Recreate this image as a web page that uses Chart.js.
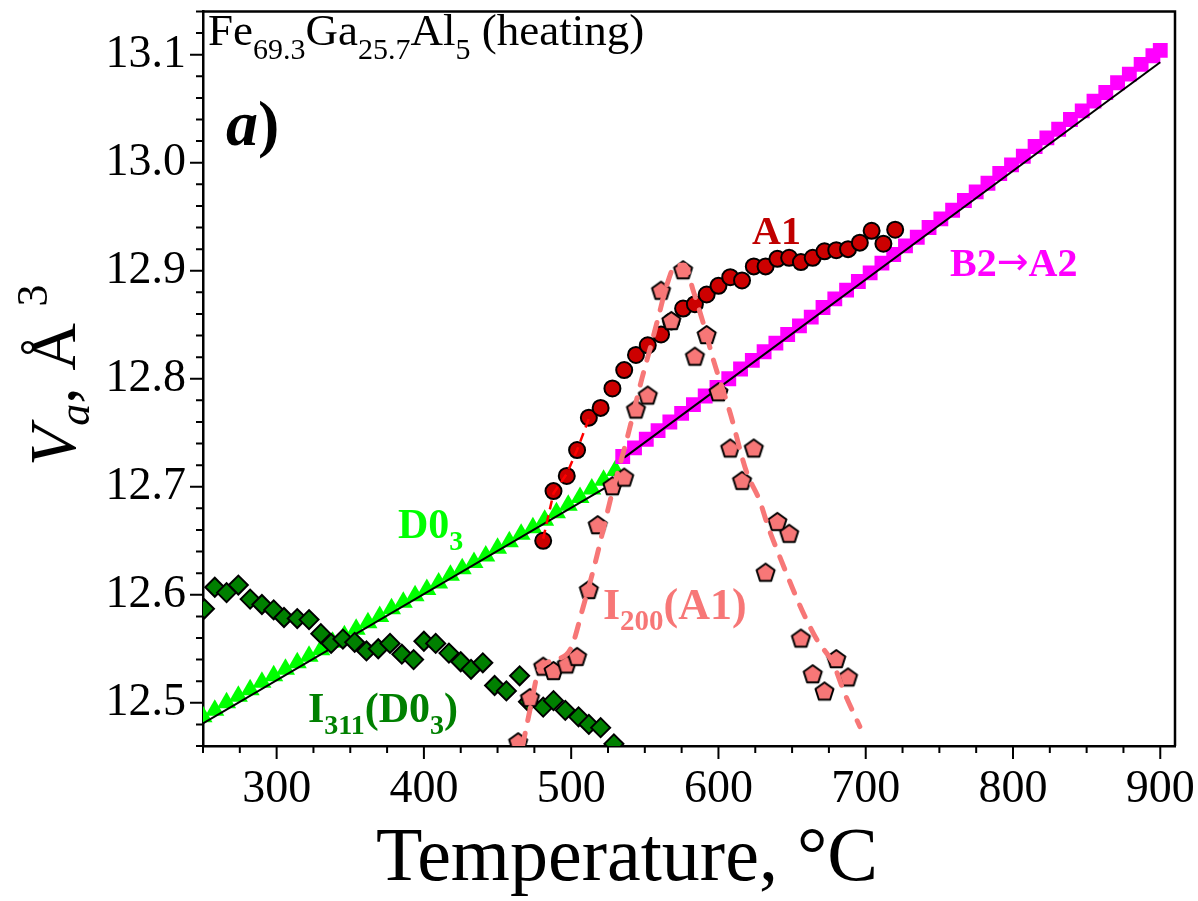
<!DOCTYPE html>
<html>
<head>
<meta charset="utf-8">
<title>Fe69.3Ga25.7Al5 heating</title>
<script src="https://cdn.jsdelivr.net/npm/chart.js@4/dist/chart.umd.min.js"></script>
<style>
  html, body { margin: 0; padding: 0; background: #ffffff; }
  canvas { display: block; }
</style>
</head>
<body>
<canvas id="volumeChart" width="1198" height="901"></canvas>
<script>
// ---------------- DATA ----------------
// D0_3 phase, unit cell volume per atom (green triangles)
const tempD03 = [250, 258, 266, 274, 282, 290, 298, 306, 314, 322, 330, 338, 346, 354, 362, 370, 378, 386,
                 394, 402, 410, 418, 426, 434, 442, 450, 458, 466, 474, 482, 490, 498, 506, 514, 522, 530];
const volD03 = [12.487, 12.493, 12.500, 12.506, 12.512, 12.519, 12.525, 12.531, 12.537, 12.543, 12.549, 12.556,
                12.562, 12.568, 12.574, 12.580, 12.587, 12.593, 12.599, 12.605, 12.611, 12.618, 12.624, 12.630,
                12.636, 12.643, 12.649, 12.656, 12.662, 12.669, 12.676, 12.683, 12.690, 12.698, 12.706, 12.715];

// B2 -> A2 (magenta squares)
const tempB2 = [535, 543, 551, 559, 567, 575, 583, 591, 599, 607, 615, 623, 631, 639, 647, 655, 663, 671, 679,
                687, 695, 703, 711, 719, 727, 735, 743, 751, 759, 767, 775, 783, 791, 799, 807, 815, 823, 831,
                839, 847, 855, 863, 871, 879, 887, 895, 900];
const volB2 = [12.728, 12.736, 12.744, 12.752, 12.760, 12.768, 12.776, 12.784, 12.792, 12.800, 12.809, 12.817,
               12.825, 12.833, 12.841, 12.849, 12.857, 12.866, 12.874, 12.882, 12.890, 12.898, 12.907, 12.915,
               12.923, 12.931, 12.940, 12.948, 12.956, 12.965, 12.973, 12.981, 12.990, 12.998, 13.006, 13.015,
               13.023, 13.031, 13.040, 13.048, 13.057, 13.065, 13.074, 13.082, 13.091, 13.099, 13.104];

// A1 phase (dark red circles)
const tempA1 = [481, 488, 497, 504, 512, 520, 528, 536, 544, 552, 561, 568, 576, 584, 592, 600, 608, 616, 624,
                632, 640, 648, 656, 664, 672, 680, 688, 696, 704, 712, 720];
const volA1 = [12.650, 12.696, 12.710, 12.734, 12.764, 12.773, 12.791, 12.808, 12.822, 12.831, 12.841, 12.853,
               12.865, 12.869, 12.878, 12.886, 12.894, 12.891, 12.904, 12.904, 12.911, 12.912, 12.908, 12.912,
               12.918, 12.919, 12.920, 12.926, 12.937, 12.925, 12.938];

// I200(A1) intensity, drawn in the volume units of the plot (salmon pentagons)
const tempI200 = [464, 472, 481, 488, 497, 504, 512, 518, 528, 536, 544, 552, 561, 568, 576, 584, 592, 600, 608,
                  616, 624, 632, 640, 648, 656, 664, 672, 680, 688];
const intI200 = [12.464, 12.505, 12.534, 12.530, 12.536, 12.543, 12.605, 12.665, 12.701, 12.709, 12.772, 12.785,
                 12.882, 12.854, 12.901, 12.821, 12.841, 12.788, 12.736, 12.706, 12.736, 12.621, 12.668, 12.657,
                 12.560, 12.527, 12.511, 12.541, 12.524];

// I311(D0_3) intensity (dark green diamonds)
const tempI311 = [251, 258, 266, 274, 282, 290, 298, 305, 314, 322, 330, 337, 345, 353, 361, 369, 377, 385, 393,
                  400, 408, 417, 425, 432, 440, 448, 456, 465, 471, 481, 488, 496, 505, 512, 520, 529];
const intI311 = [12.587, 12.607, 12.602, 12.609, 12.596, 12.591, 12.586, 12.579, 12.578, 12.577, 12.564, 12.555,
                 12.559, 12.556, 12.548, 12.550, 12.555, 12.545, 12.540, 12.557, 12.555, 12.546, 12.538, 12.531,
                 12.537, 12.516, 12.511, 12.525, 12.501, 12.496, 12.502, 12.493, 12.487, 12.480, 12.477, 12.462];

// guide lines
const fitD03T = [250, 528];
const fitD03V = [12.481, 12.703];
const fitB2T = [536, 900];
const fitB2V = [12.727, 13.093];
const dashA1T = [481, 488, 497, 504, 512];
const dashA1V = [12.652, 12.694, 12.712, 12.734, 12.763];
const curveI200T = [467, 473, 478, 490, 500, 508, 516, 527, 538, 548, 554, 559, 565, 571, 577, 583, 590, 596,
                    608, 619, 628, 634, 642, 650, 658, 667, 678, 685, 696];
const curveI200V = [12.46, 12.50, 12.53, 12.54, 12.551, 12.588, 12.628, 12.69, 12.745, 12.80, 12.83, 12.856,
                    12.887, 12.905, 12.905, 12.881, 12.85, 12.82, 12.768, 12.714, 12.687, 12.662, 12.634, 12.607,
                    12.582, 12.558, 12.536, 12.511, 12.478];

// tick labels shown on the axes
const xTickLabels = [300, 400, 500, 600, 700, 800, 900];
const yTickLabels = [12.5, 12.6, 12.7, 12.8, 12.9, 13.0, 13.1];

// ---------------- HELPERS ----------------
const SERIF = '"Liberation Serif", "Times New Roman", serif';

// turns two arrays into {x, y} points for the scatter chart
function pts(xs, ys) {
    return xs.map((x, i) => ({ x: x, y: ys[i] }));
}

// Chart.js has no pentagon, so draw one on a small canvas and use it as pointStyle
function makePentagon(fill, r) {
    const c = document.createElement('canvas');
    const s = Math.ceil(2 * r + 4);
    c.width = s;
    c.height = s;
    const g = c.getContext('2d');
    g.beginPath();
    for (let i = 0; i < 5; i++) {
        const ang = -Math.PI / 2 + i * 2 * Math.PI / 5;
        const px = s / 2 + r * Math.cos(ang);
        const py = s / 2 + 1 + r * Math.sin(ang);
        if (i === 0) g.moveTo(px, py); else g.lineTo(px, py);
    }
    g.closePath();
    g.fillStyle = fill;
    g.fill();
    g.lineWidth = 2;
    g.lineJoin = 'round';
    g.strokeStyle = '#000';
    g.stroke();
    return c;
}

// writes text made of pieces with own font / vertical shift (sub and superscripts)
function drawRich(ctx, x, y, parts, color) {
    ctx.fillStyle = color;
    ctx.textAlign = 'left';
    ctx.textBaseline = 'alphabetic';
    for (const p of parts) {
        ctx.font = p.font;
        ctx.fillText(p.text, x, y + (p.dy || 0));
        x += ctx.measureText(p.text).width;
    }
    return x;
}

// ---------------- PLUGIN: frame, ticks, labels ----------------
const decorations = {
    id: 'decorations',
    afterDraw(chart) {
        const ctx = chart.ctx;
        const a = chart.chartArea;
        const xs = chart.scales.x;
        const ys = chart.scales.y;
        ctx.save();

        // closed box round the plot
        ctx.strokeStyle = '#000';
        ctx.lineWidth = 2.5;
        ctx.beginPath();
        ctx.moveTo(a.left, a.top);
        ctx.lineTo(a.right, a.top);
        ctx.lineTo(a.right, a.bottom);
        ctx.stroke();

        // outward ticks, major every 100 / 0.1, minor every 25 / 0.02
        ctx.lineWidth = 2;
        ctx.beginPath();
        for (let t = 250; t <= 900; t += 25) {
            const px = xs.getPixelForValue(t);
            const len = t % 100 === 0 ? 13 : 7;
            ctx.moveTo(px, a.bottom);
            ctx.lineTo(px, a.bottom + len);
        }
        for (let k = 0; k <= 34; k++) {
            const v = 12.46 + k * 0.02;
            const py = ys.getPixelForValue(v);
            const major = Math.abs(v * 10 - Math.round(v * 10)) < 1e-6;
            ctx.moveTo(a.left, py);
            ctx.lineTo(a.left - (major ? 13 : 7), py);
        }
        ctx.stroke();

        // sample name
        drawRich(ctx, 208, 45, [
            { text: 'Fe', font: `45px ${SERIF}` },
            { text: '69.3', font: `30px ${SERIF}`, dy: 14 },
            { text: 'Ga', font: `45px ${SERIF}` },
            { text: '25.7', font: `30px ${SERIF}`, dy: 14 },
            { text: 'Al', font: `45px ${SERIF}` },
            { text: '5', font: `30px ${SERIF}`, dy: 14 },
            { text: ' (heating)', font: `45px ${SERIF}` }
        ], '#000');

        // panel letter
        drawRich(ctx, 226, 145, [
            { text: 'a', font: `italic bold 64px ${SERIF}` },
            { text: ')', font: `bold 64px ${SERIF}` }
        ], '#000');

        // phase labels
        drawRich(ctx, 752, 244, [{ text: 'A1', font: `bold 40px ${SERIF}` }], '#c00000');
        drawRich(ctx, 950, 276, [
            { text: 'B2', font: `bold 40px ${SERIF}` },
            { text: '\u2192', font: `38px "DejaVu Sans", sans-serif`, dy: -2 },
            { text: 'A2', font: `bold 40px ${SERIF}` }
        ], '#ff00ff');
        drawRich(ctx, 398, 538, [
            { text: 'D0', font: `bold 42px ${SERIF}` },
            { text: '3', font: `bold 28px ${SERIF}`, dy: 12 }
        ], '#00ff00');
        drawRich(ctx, 308, 722, [
            { text: 'I', font: `bold 42px ${SERIF}` },
            { text: '311', font: `bold 28px ${SERIF}`, dy: 12 },
            { text: '(D0', font: `bold 42px ${SERIF}` },
            { text: '3', font: `bold 28px ${SERIF}`, dy: 12 },
            { text: ')', font: `bold 42px ${SERIF}` }
        ], '#008000');
        drawRich(ctx, 603, 619, [
            { text: 'I', font: `bold 44px ${SERIF}` },
            { text: '200', font: `bold 29px ${SERIF}`, dy: 11 },
            { text: '(A1)', font: `bold 44px ${SERIF}` }
        ], '#f77777');

        // x axis title
        ctx.font = `76px ${SERIF}`;
        ctx.fillStyle = '#000';
        ctx.textAlign = 'center';
        ctx.textBaseline = 'alphabetic';
        ctx.fillText('Temperature, \u00b0C', 627, 880);

        // y axis title, rotated
        ctx.translate(75, 466);
        ctx.rotate(-Math.PI / 2);
        drawRich(ctx, 0, 0, [
            { text: 'V', font: `italic 66px ${SERIF}` },
            { text: 'a', font: `italic 44px ${SERIF}`, dy: 14 },
            { text: ', \u00c5 ', font: `66px ${SERIF}` },
            { text: '3', font: `44px ${SERIF}`, dy: -28 }
        ], '#000');

        ctx.restore();
    }
};

// ---------------- SCATTER CHART ----------------
const chartCtx = document.getElementById('volumeChart');
const salmon = '#f77777';

new Chart(chartCtx, {
    type: 'scatter',
    data: {
        datasets: [
            {
                // dashed guide through the I200 intensities
                label: 'I200 guide',
                data: pts(curveI200T, curveI200V),
                showLine: true,
                pointRadius: 0,
                borderColor: salmon,
                borderWidth: 5,
                borderDash: [13, 13],
                borderCapStyle: 'round',
                cubicInterpolationMode: 'monotone',
                order: 1
            },
            {
                label: 'I200(A1)',
                data: pts(tempI200, intI200),
                pointStyle: makePentagon(salmon, 9.5),
                pointRadius: 10,
                order: 2
            },
            {
                label: 'A1 guide',
                data: pts(dashA1T, dashA1V),
                showLine: true,
                pointRadius: 0,
                borderColor: '#ff0000',
                borderWidth: 2.5,
                borderDash: [9, 6],
                order: 3
            },
            {
                label: 'A1',
                data: pts(tempA1, volA1),
                pointStyle: 'circle',
                pointRadius: 8,
                pointBackgroundColor: '#cc0000',
                pointBorderColor: '#000',
                pointBorderWidth: 2,
                order: 4
            },
            {
                label: 'I311(D03)',
                data: pts(tempI311, intI311),
                pointStyle: 'rectRot',
                pointRadius: 9.5,
                pointBackgroundColor: '#008000',
                pointBorderColor: '#000',
                pointBorderWidth: 2,
                order: 5
            },
            {
                label: 'D03 fit',
                data: pts(fitD03T, fitD03V),
                showLine: true,
                pointRadius: 0,
                borderColor: '#000',
                borderWidth: 2,
                order: 6
            },
            {
                label: 'B2 fit',
                data: pts(fitB2T, fitB2V),
                showLine: true,
                pointRadius: 0,
                borderColor: '#000',
                borderWidth: 2,
                order: 6
            },
            {
                label: 'B2->A2',
                data: pts(tempB2, volB2),
                pointStyle: 'rect',
                pointRadius: 10.5,
                pointBackgroundColor: '#ff00ff',
                pointBorderWidth: 0,
                order: 7
            },
            {
                label: 'D03',
                data: pts(tempD03, volD03),
                pointStyle: 'triangle',
                pointRadius: 11,
                pointBackgroundColor: '#00ff00',
                pointBorderWidth: 0,
                order: 8
            }
        ].map(ds => Object.assign({ clip: 0, pointHoverRadius: ds.pointRadius }, ds))
    },
    options: {
        responsive: false,
        animation: false,
        devicePixelRatio: 1,
        layout: { padding: { top: 6, right: 23, left: 0, bottom: 0 } },
        plugins: {
            legend: { display: false },
            tooltip: { enabled: false }
        },
        scales: {
            x: {
                type: 'linear',
                position: 'bottom',
                min: 250,
                max: 910,
                // fixed box so the plot area matches the figure
                afterFit(scale) {
                    scale.height = 155;
                    scale.paddingLeft = 0;
                    scale.paddingRight = 0;
                },
                grid: { display: false, drawTicks: false },
                border: { display: true, color: '#000', width: 2.5 },
                ticks: {
                    stepSize: 100,
                    includeBounds: false,
                    padding: 16,
                    color: '#000',
                    font: { family: SERIF, size: 46 },
                    callback: v => (xTickLabels.includes(Math.round(v)) ? String(Math.round(v)) : '')
                }
            },
            y: {
                type: 'linear',
                min: 12.46,
                max: 13.14,
                afterFit(scale) {
                    scale.width = 203;
                    scale.paddingTop = 0;
                    scale.paddingBottom = 0;
                },
                grid: { display: false, drawTicks: false },
                border: { display: true, color: '#000', width: 2.5 },
                ticks: {
                    stepSize: 0.1,
                    includeBounds: false,
                    padding: 17,
                    color: '#000',
                    font: { family: SERIF, size: 46 },
                    callback: v => {
                        const r = Math.round(v * 10) / 10;
                        return yTickLabels.some(t => Math.abs(t - r) < 1e-9) && Math.abs(v - r) < 1e-6 ? r.toFixed(1) : '';
                    }
                }
            }
        }
    },
    plugins: [decorations]
});
</script>
</body>
</html>
